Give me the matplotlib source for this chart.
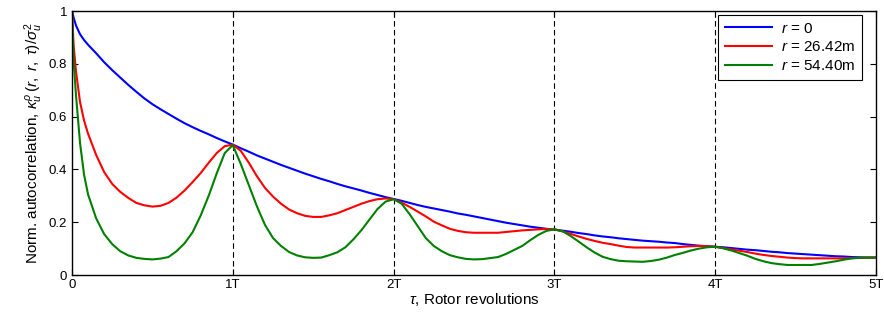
import matplotlib
matplotlib.use("Agg")
import matplotlib.pyplot as plt

plt.rcParams['font.family'] = ['Liberation Sans', 'DejaVu Sans']
plt.rcParams['mathtext.fontset'] = 'custom'
plt.rcParams['mathtext.rm'] = 'Liberation Sans'
plt.rcParams['mathtext.it'] = 'Liberation Sans:italic'
plt.rcParams['mathtext.bf'] = 'Liberation Sans:bold'

tau = [0, 0.01, 0.025, 0.05, 0.075, 0.1, 0.15, 0.2, 0.25, 0.3, 0.35, 0.4, 0.45,
       0.5, 0.55, 0.6, 0.65, 0.7, 0.75, 0.8, 0.85, 0.9, 0.95,
       1.0, 1.05, 1.1, 1.15, 1.2, 1.25, 1.3, 1.35, 1.4, 1.45,
       1.5, 1.55, 1.6, 1.65, 1.7, 1.75, 1.8, 1.85, 1.9, 1.95,
       2.0, 2.05, 2.1, 2.15, 2.2, 2.25, 2.3, 2.35, 2.4, 2.45,
       2.5, 2.55, 2.6, 2.65, 2.7, 2.75, 2.8, 2.85, 2.9, 2.95,
       3.0, 3.05, 3.1, 3.15, 3.2, 3.25, 3.3, 3.35, 3.4, 3.45,
       3.5, 3.55, 3.6, 3.65, 3.7, 3.75, 3.8, 3.85, 3.9, 3.95,
       4.0, 4.05, 4.1, 4.15, 4.2, 4.25, 4.3, 4.35, 4.4, 4.45,
       4.5, 4.55, 4.6, 4.65, 4.7, 4.75, 4.8, 4.85, 4.9, 4.95, 5.0]

r0 = [1.0, 0.975, 0.945, 0.912, 0.89, 0.872, 0.84, 0.806, 0.776, 0.748, 0.72, 0.694, 0.669,
      0.647, 0.628, 0.61, 0.592, 0.575, 0.56, 0.546, 0.533, 0.519, 0.506,
      0.494, 0.48, 0.467, 0.453, 0.441, 0.429, 0.417, 0.406, 0.395, 0.384,
      0.374, 0.364, 0.355, 0.345, 0.336, 0.328, 0.32, 0.311, 0.303, 0.295,
      0.288, 0.281, 0.273, 0.265, 0.258, 0.252, 0.246, 0.24, 0.233, 0.228,
      0.222, 0.216, 0.21, 0.204, 0.198, 0.193, 0.188, 0.183, 0.179, 0.175,
      0.172, 0.168, 0.164, 0.159, 0.155, 0.15, 0.146, 0.143, 0.139, 0.136,
      0.133, 0.13, 0.128, 0.126, 0.123, 0.121, 0.117, 0.114, 0.111, 0.109,
      0.107, 0.105, 0.102, 0.099, 0.096, 0.094, 0.091, 0.088, 0.086, 0.083,
      0.081, 0.079, 0.077, 0.075, 0.073, 0.071, 0.07, 0.068, 0.067, 0.066, 0.066]

r26 = [1.0, 0.87, 0.77, 0.655, 0.585, 0.535, 0.455, 0.39, 0.345, 0.315, 0.292, 0.273, 0.264,
       0.259, 0.262, 0.273, 0.293, 0.32, 0.352, 0.386, 0.425, 0.462, 0.488,
       0.494, 0.47, 0.425, 0.374, 0.33, 0.297, 0.27, 0.248, 0.234, 0.224,
       0.22, 0.22, 0.226, 0.234, 0.246, 0.258, 0.27, 0.28, 0.287, 0.29,
       0.287, 0.274, 0.258, 0.24, 0.222, 0.202, 0.188, 0.175, 0.167, 0.162,
       0.16, 0.16, 0.16, 0.16, 0.163, 0.166, 0.169, 0.171, 0.173, 0.174,
       0.173, 0.165, 0.156, 0.146, 0.137, 0.129, 0.122, 0.117, 0.111, 0.106,
       0.104, 0.104, 0.104, 0.104, 0.104, 0.105, 0.107, 0.109, 0.11, 0.109,
       0.107, 0.102, 0.097, 0.092, 0.087, 0.081, 0.076, 0.072, 0.069, 0.066,
       0.064, 0.063, 0.063, 0.063, 0.063, 0.063, 0.063, 0.064, 0.065, 0.066, 0.066]

r54 = [1.0, 0.81, 0.68, 0.5, 0.38, 0.305, 0.215, 0.155, 0.117, 0.09, 0.074, 0.065, 0.061,
       0.059, 0.062, 0.068, 0.09, 0.12, 0.162, 0.225, 0.3, 0.385, 0.462,
       0.492, 0.42, 0.34, 0.26, 0.19, 0.14, 0.11, 0.087, 0.074, 0.067,
       0.065, 0.066, 0.075, 0.086, 0.105, 0.135, 0.17, 0.21, 0.25, 0.278,
       0.287, 0.27, 0.23, 0.185, 0.14, 0.11, 0.09, 0.075, 0.067, 0.061,
       0.059, 0.06, 0.064, 0.068, 0.08, 0.095, 0.11, 0.132, 0.152, 0.167,
       0.173, 0.166, 0.148, 0.127, 0.105, 0.085, 0.069, 0.06, 0.054, 0.052,
       0.051, 0.05, 0.053, 0.058, 0.066, 0.076, 0.084, 0.093, 0.1, 0.105,
       0.107, 0.101, 0.093, 0.083, 0.073, 0.061, 0.052, 0.045, 0.041, 0.038,
       0.038, 0.038, 0.038, 0.042, 0.047, 0.052, 0.058, 0.063, 0.065, 0.066, 0.066]

labels = [r'$r$ = 0', r'$r$ = 26.42m', r'$r$ = 54.40m']
colors = ['#0000ff', '#ff0000', '#008000']

xticks = [0, 1, 2, 3, 4, 5]
xticklabels = ['0', '1T', '2T', '3T', '4T', '5T']
yticks = [0, 0.2, 0.4, 0.6, 0.8, 1.0]
yticklabels = ['0', '0.2', '0.4', '0.6', '0.8', '1']
vlines = [1, 2, 3, 4]

fig = plt.figure(figsize=(8.84, 3.25), dpi=100)
ax = fig.add_axes([72/884, 50/325, 804/884, 264/325])

for x in vlines:
    ax.axvline(x, color='black', linestyle=(0, (5, 3)), linewidth=0.8, zorder=1)

for ys, lab, c in zip([r0, r26, r54], labels, colors):
    ax.plot(tau, ys, color=c, linewidth=1.5, label=lab, zorder=2)

ax.set_xlim(0, 5)
ax.set_ylim(0, 1)
ax.set_xticks(xticks)
ax.set_xticklabels(xticklabels)
ax.set_yticks(yticks)
ax.set_yticklabels(yticklabels)
ax.tick_params(direction='in', top=True, right=True, length=4, width=0.8, labelsize=9.5)
ax.tick_params(axis='x', pad=3)
for s in ax.spines.values():
    s.set_linewidth(1.0)

ax.set_xlabel(r'$\tau$, Rotor revolutions', fontsize=11, labelpad=0)
ax.set_ylabel(r'Norm. autocorrelation, $\kappa_u^{\rho}\,(r,\ r,\ \tau)/\sigma_u^2$', fontsize=11, labelpad=3)

leg = ax.legend(loc='upper right', bbox_to_anchor=(0.983, 0.985), borderaxespad=0,
                fontsize=11, fancybox=False, edgecolor='black', framealpha=1,
                handlelength=3.1, labelspacing=0.3, borderpad=0.45, handletextpad=0.6)
leg.get_frame().set_linewidth(0.8)

fig.savefig('out.png', dpi=100)
